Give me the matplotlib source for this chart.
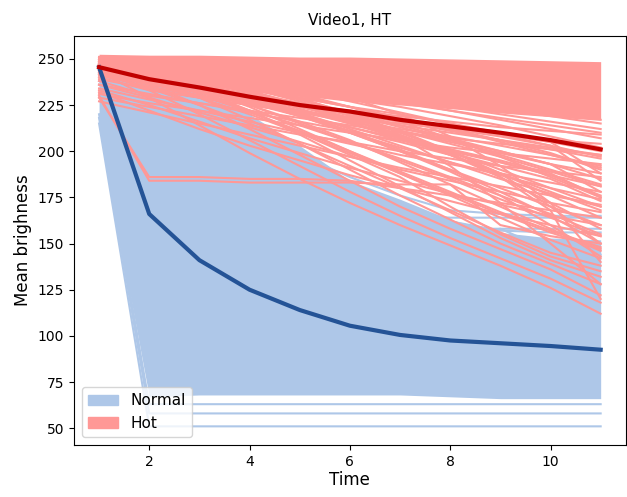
import matplotlib
matplotlib.use('Agg')
import matplotlib.pyplot as plt
import matplotlib.patches as mpatches

# time steps
time = [1, 2, 3, 4, 5, 6, 7, 8, 9, 10, 11]

# dense part of the "Normal" bundle (lower / upper edge)
normal_lo = [213, 67, 68, 68, 68, 68, 68, 67, 66, 66, 66]
normal_hi = [252, 238, 232, 220, 203, 184, 174, 163, 156, 153, 152]

# single "Normal" curves that stand out of the bundle
normal_lines = [
    [215, 51, 51, 51, 51, 51, 51, 51, 51, 51, 51],
    [218, 58, 58, 58, 58, 58, 58, 58, 58, 58, 58],
    [220, 63, 63, 63, 63, 63, 63, 63, 63, 63, 63],
    [240, 228, 214, 198, 184, 172, 166, 164, 164, 164, 164],
    [238, 222, 205, 190, 176, 166, 161, 158, 158, 158, 158],
    [236, 216, 199, 184, 172, 162, 156, 154, 158, 146, 144],
    [242, 232, 222, 210, 198, 186, 176, 168, 166, 165, 165],
    [244, 234, 224, 212, 196, 180, 170, 162, 157, 156, 156],
]

# dense part of the "Hot" bundle (lower / upper edge)
hot_lo = [246, 240, 236, 233, 230, 227, 225, 223, 221, 219, 217]
hot_hi = [252.5, 252, 252, 251.5, 251, 251, 250.5, 250, 249.5, 249, 248.5]

# single "Hot" curves
hot_lines = [
    [244, 240, 237, 234, 231, 228, 226, 224, 221, 219, 217],
    [242, 236, 232, 228, 225, 222, 219, 216, 213, 211, 209],
    [240, 233, 229, 225, 221, 218, 215, 212, 209, 206, 204],
    [238, 230, 226, 222, 218, 214, 210, 207, 204, 201, 198],
    [231, 226, 222, 218, 214, 210, 206, 202, 199, 196, 193],
    [229, 224, 219, 214, 209, 205, 200, 196, 192, 189, 186],
    [234, 228, 222, 216, 210, 204, 198, 193, 188, 183, 178],
    [236, 229, 221, 213, 205, 197, 190, 184, 178, 172, 167],
    [233, 225, 216, 207, 199, 191, 184, 177, 171, 165, 160],
    [227, 221, 215, 209, 203, 197, 191, 186, 181, 176, 171],
    [232, 222, 212, 203, 195, 187, 180, 173, 166, 160, 154],
    [229, 186, 186, 185, 185, 184, 180, 176, 172, 168, 164],
    [230, 184, 184, 183, 183, 183, 182, 182, 160, 154, 150],
    [245, 238, 230, 222, 214, 205, 196, 186, 176, 166, 155],
    [246, 240, 233, 225, 216, 206, 194, 182, 170, 158, 146],
    [247, 241, 235, 228, 220, 211, 201, 190, 178, 165, 150],
    [248, 243, 238, 232, 225, 217, 208, 198, 186, 172, 158],
    [249, 245, 240, 234, 228, 220, 211, 200, 188, 176, 164],
    [247, 242, 234, 224, 212, 200, 188, 176, 164, 152, 142],
    [248, 242, 233, 222, 209, 195, 181, 167, 153, 141, 132],
    [246, 239, 229, 217, 204, 190, 176, 163, 150, 139, 128],
    [245, 236, 225, 212, 198, 184, 170, 158, 147, 136, 122],
    [244, 233, 220, 206, 192, 178, 165, 153, 142, 131, 118],
    [243, 229, 214, 199, 185, 172, 160, 149, 138, 126, 112],
    [250, 247, 244, 240, 236, 232, 228, 224, 220, 216, 212],
    [251, 248, 245, 242, 239, 235, 231, 227, 223, 219, 215],
    [247, 244, 240, 237, 233, 230, 226, 222, 218, 214, 210],
    [248, 245, 242, 239, 235, 231, 227, 222, 217, 212, 207],
    [246, 242, 238, 233, 229, 224, 220, 215, 210, 205, 200],
    [245, 241, 236, 231, 226, 221, 216, 211, 206, 201, 196],
    [249, 244, 238, 232, 225, 218, 211, 205, 199, 193, 188],
    [248, 243, 237, 230, 223, 215, 207, 200, 194, 187, 181],
    [247, 242, 235, 227, 219, 210, 202, 194, 187, 180, 174],
    [250, 246, 240, 233, 225, 216, 207, 198, 188, 178, 168],
    [249, 244, 237, 229, 220, 210, 200, 190, 180, 170, 160],
    [248, 242, 234, 225, 215, 205, 195, 185, 174, 164, 154],
    [247, 240, 231, 221, 211, 200, 189, 178, 167, 157, 148],
    [250, 248, 245, 241, 236, 229, 220, 208, 192, 172, 140],
    [249, 246, 242, 236, 229, 220, 208, 192, 172, 150, 128],
    [246, 240, 232, 222, 210, 198, 186, 170, 155, 143, 135],
    [251, 247, 243, 238, 233, 227, 221, 215, 209, 203, 197],
    [250, 246, 241, 236, 230, 224, 218, 212, 206, 199, 190],
    [249, 245, 240, 234, 228, 221, 214, 207, 200, 193, 185],
    [248, 244, 238, 232, 225, 218, 211, 204, 197, 189, 181],
    [247, 242, 236, 229, 222, 215, 208, 201, 194, 187, 176],
    [246, 241, 234, 227, 220, 213, 206, 199, 192, 185, 173],
    [245, 240, 233, 226, 219, 213, 207, 201, 195, 188, 175],
    [244, 238, 232, 226, 221, 216, 211, 206, 200, 193, 178],
    [243, 238, 233, 228, 224, 220, 216, 212, 208, 203, 184],
    [242, 237, 233, 229, 225, 221, 217, 213, 209, 205, 188],
    [241, 235, 230, 226, 222, 218, 214, 210, 206, 202, 198],
    [239, 234, 229, 225, 221, 217, 212, 208, 203, 198, 192],
    [248, 244, 240, 236, 232, 228, 224, 219, 214, 208, 202],
    [247, 243, 239, 234, 229, 224, 218, 212, 205, 198, 191],
    [246, 242, 237, 232, 226, 220, 213, 206, 198, 190, 182],
    [250, 246, 242, 237, 231, 224, 216, 207, 197, 186, 175],
    [249, 245, 240, 234, 227, 219, 210, 200, 190, 180, 170],
    [247, 242, 236, 229, 221, 212, 203, 194, 185, 177, 170],
    [244, 237, 229, 220, 210, 199, 188, 177, 166, 156, 147],
    [242, 234, 225, 215, 204, 192, 180, 168, 156, 145, 138],
    [245, 240, 234, 227, 219, 210, 200, 189, 176, 160, 143],
    [243, 239, 235, 230, 224, 217, 209, 199, 186, 168, 120],
    [236, 231, 226, 221, 216, 211, 205, 198, 188, 170, 150],
]

# mean curves
normal_mean = [245.5, 166, 141, 125, 114, 105.5, 100.5, 97.5, 96, 94.5, 92.5]
hot_mean = [245.5, 239, 234.5, 229.5, 225, 221.5, 217, 213.5, 210, 206, 201]

c_normal = '#aec7e8'
c_hot = '#ff9896'

fig, ax = plt.subplots(figsize=(6.27, 4.97), dpi=100)
fig.subplots_adjust(left=0.118, right=0.998, bottom=0.105, top=0.928)

# Normal group
ax.fill_between(time, normal_lo, normal_hi, color=c_normal, lw=0)
for line in normal_lines:
    ax.plot(time, line, color=c_normal, lw=1.5)

# Hot group
ax.fill_between(time, hot_lo, hot_hi, color=c_hot, lw=0)
for line in hot_lines:
    ax.plot(time, line, color=c_hot, lw=1.5)

# means
ax.plot(time, normal_mean, color='#245396', lw=3)
ax.plot(time, hot_mean, color='#c00000', lw=3)

ax.set_xlim(0.5, 11.5)
ax.set_ylim(41, 262.5)
ax.set_xticks([2, 4, 6, 8, 10])
ax.set_yticks([50, 75, 100, 125, 150, 175, 200, 225, 250])
ax.tick_params(labelsize=10)
ax.set_xlabel('Time', fontsize=12, labelpad=2)
ax.set_ylabel('Mean brighness', fontsize=12)
ax.set_title('Video1, HT', fontsize=11, pad=8)

handles = [mpatches.Patch(color=c_normal, label='Normal'),
           mpatches.Patch(color=c_hot, label='Hot')]
ax.legend(handles=handles, loc='lower left', fontsize=11)

fig.savefig('out.png', dpi=100)
